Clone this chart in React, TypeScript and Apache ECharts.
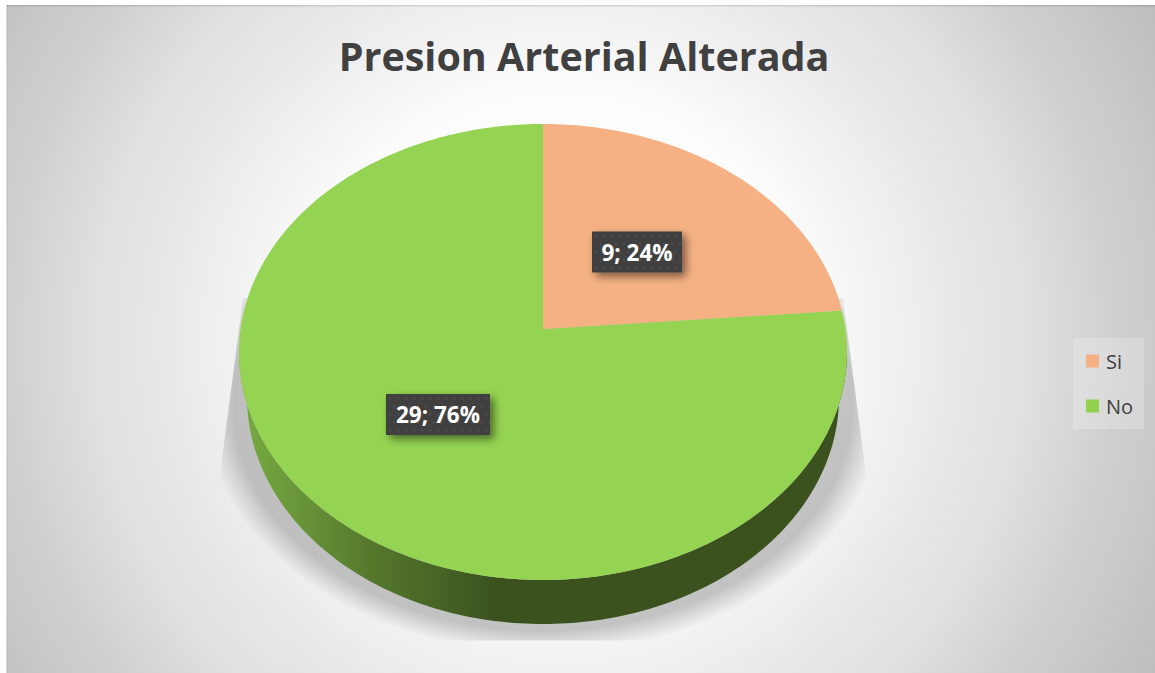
import React, { useEffect, useRef } from "react";
import * as echarts from "echarts";

const categories = ["Si", "No"];
const values = [9, 29];
const percentLabels = ["24%", "76%"];
const sliceColors = ["#F5B183", "#95D452"];
const legendColors = ["#F4B183", "#92D050"];
const titleText = "Presion Arterial Alterada";

const total = values.reduce((a, b) => a + b, 0);

// Perspective projection of the pie's top face
const CX = 543;
const APEX_Y = 329;
const TOP_Y = 124;
const BOTTOM_Y = 580;
const PC = (TOP_Y + BOTTOM_Y - 2 * APEX_Y) / (BOTTOM_Y - TOP_Y);
const PA = TOP_Y * (1 + PC) - APEX_Y;
const PD = 304 * Math.sqrt(1 - PC * PC);

function project(theta: number): [number, number] {
  const u = Math.sin(theta);
  const v = Math.cos(theta);
  const w = 1 + PC * v;
  return [CX + (PD * u) / w, (PA * v + APEX_Y) / w];
}

const SIDE_RX = 296;
const SIDE_CY = 397;
const SIDE_RY = 227;
const WIDE = Math.acos(-PC);

function angleRange(index: number): [number, number] {
  let before = 0;
  for (let i = 0; i < index; i++) before += values[i];
  return [
    (before / total) * Math.PI * 2,
    ((before + values[index]) / total) * Math.PI * 2,
  ];
}

function labelBox(cx: number, cy: number, w: number, text: string) {
  const h = 41;
  const x = cx - w / 2;
  const y = cy - h / 2;
  const dots: any[] = [];
  for (let r = 0; r < 5; r++) {
    for (let c = 0; c < Math.floor(w / 8); c++) {
      dots.push({
        type: "circle",
        z2: 101,
        shape: { cx: x + 4 + c * 8 + (r % 2 ? 4 : 0), cy: y + 4.5 + r * 8, r: 1.1 },
        style: { fill: "rgba(255,255,255,0.09)" },
      });
    }
  }
  return [
    {
      type: "rect",
      z2: 100,
      shape: { x, y, width: w, height: h },
      style: {
        fill: "#404040",
        shadowBlur: 9,
        shadowOffsetX: 4,
        shadowOffsetY: 4,
        shadowColor: "rgba(0,0,0,0.5)",
      },
    },
    ...dots,
    {
      type: "text",
      z2: 102,
      style: {
        x: cx,
        y: cy,
        text,
        align: "center",
        verticalAlign: "middle",
        fill: "#FFFFFF",
        font: 'bold 22.5px "Open Sans", sans-serif',
      },
    },
  ];
}

const labelCenters: [number, number][] = [
  [637, 252],
  [438, 414.5],
];
const labelWidths = [90, 104];

function makeRenderItem(index: number) {
  return () => {
    const [a0, a1] = angleRange(index);
    const children: any[] = [];

    // visible rim of the slice
    const s0 = Math.max(a0, WIDE);
    const s1 = Math.min(a1, Math.PI * 2 - WIDE);
    if (s1 > s0) {
      const N = 160;
      const pts: number[][] = [];
      for (let i = 0; i <= N; i++) pts.push(project(s0 + ((s1 - s0) * i) / N));
      for (let i = N; i >= 0; i--) {
        const t =
          Math.PI / 2 +
          ((s0 - WIDE + (s1 - s0) * (i / N)) / (Math.PI * 2 - 2 * WIDE)) * Math.PI;
        pts.push([CX + SIDE_RX * Math.sin(t), SIDE_CY - SIDE_RY * Math.cos(t)]);
      }
      children.push({
        type: "polygon",
        shape: { points: pts },
        style: {
          fill: new echarts.graphic.LinearGradient(0, 0, 1, 0, [
            { offset: 0, color: "#78AC42" },
            { offset: 0.22, color: "#55782C" },
            { offset: 0.42, color: "#3B521F" },
            { offset: 1, color: "#3B521F" },
          ]),
        },
      });
    }

    // top face
    const N = Math.max(8, Math.ceil(((a1 - a0) / (Math.PI * 2)) * 360));
    const face: number[][] = [[CX, APEX_Y]];
    for (let i = 0; i <= N; i++) face.push(project(a0 + ((a1 - a0) * i) / N));
    children.push({
      type: "polygon",
      z2: 10,
      shape: { points: face },
      style: { fill: sliceColors[index] },
    });
    return { type: "group", children };
  };
}

export default function App() {
  const ref = useRef<HTMLDivElement>(null);
  useEffect(() => {
    document.body.style.margin = "0";
    document.body.style.background = "#FFFFFF";
    const chart = echarts.init(ref.current!, null, { renderer: "svg" });
    const bg = new echarts.graphic.RadialGradient(560, 340, 680, [
      { offset: 0, color: "#FFFFFF" },
      { offset: 0.37, color: "#FCFCFC" },
      { offset: 0.46, color: "#F3F3F3" },
      { offset: 0.63, color: "#E4E4E4" },
      { offset: 0.69, color: "#E0E0E0" },
      { offset: 0.82, color: "#CFCFCF" },
      { offset: 0.87, color: "#CBCBCB" },
      { offset: 1, color: "#BEBEBE" },
    ]);
    (bg as any).global = true;
    chart.setOption({
      animation: false,
      title: {
        text: titleText,
        left: 579,
        top: 31,
        textAlign: "center",
        textStyle: {
          fontFamily: '"Open Sans", sans-serif',
          fontSize: 39.5,
          fontWeight: "bold",
          color: "#404040",
        },
      },
      legend: {
        data: categories.map((name) => ({ name })),
        orient: "vertical",
        left: 1073,
        top: 338,
        padding: [13, 11, 13, 13],
        itemWidth: 13,
        itemHeight: 13,
        itemGap: 25,
        icon: "rect",
        backgroundColor: "rgba(255,255,255,0.22)",
        selectedMode: false,
        textStyle: {
          fontFamily: '"Open Sans", sans-serif',
          fontSize: 20,
          color: "#404040",
          padding: [0, 0, 0, 2],
        },
      },
      graphic: {
        elements: [
          {
            type: "rect",
            z: -10,
            shape: { x: 6.5, y: 5, width: 1149, height: 668 },
            style: { fill: bg },
          },
          {
            type: "rect",
            z: -9,
            shape: { x: 6.5, y: 5, width: 1149, height: 1.5 },
            style: { fill: "rgba(0,0,0,0.12)" },
          },
          {
            type: "rect",
            z: -9,
            shape: { x: 6.5, y: 5, width: 1.2, height: 668 },
            style: { fill: "rgba(0,0,0,0.06)" },
          },
          {
            // soft shadow, cut by the trapezoid; the zero-width spurs give the
            // shape the bounding box of the shadow's ellipse
            type: "polygon",
            z: -8,
            shape: {
              points: [
                [543, 298],
                [543, 153],
                [543, 298],
                [843, 298],
                [868, 490],
                [883, 490],
                [868, 490],
                [868, 640.5],
                [543, 640.5],
                [543, 653],
                [543, 640.5],
                [218, 640.5],
                [218, 490],
                [203, 490],
                [218, 490],
                [243, 298],
              ],
            },
            style: {
              fill: new echarts.graphic.RadialGradient(0.5, 0.5, 0.5, [
                { offset: 0, color: "rgba(0,0,0,0.21)" },
                { offset: 0.91, color: "rgba(0,0,0,0.21)" },
                { offset: 0.96, color: "rgba(0,0,0,0.09)" },
                { offset: 1, color: "rgba(0,0,0,0)" },
              ]),
            },
          },
        ],
      },
      series: [
        ...categories.map((name, i) => ({
          type: "custom",
          name,
          coordinateSystem: "none",
          data: [values[i]],
          itemStyle: { color: legendColors[i] },
          renderItem: makeRenderItem(i),
          silent: true,
          z: i === 1 ? 2 : 3,
        })),
        {
          type: "custom",
          name: "labels",
          coordinateSystem: "none",
          data: [0],
          silent: true,
          z: 10,
          renderItem: () => ({
            type: "group",
            children: categories.flatMap((_, i) =>
              labelBox(
                labelCenters[i][0],
                labelCenters[i][1],
                labelWidths[i],
                `${values[i]}; ${percentLabels[i]}`
              )
            ),
          }),
        },
      ],
    });
    return () => chart.dispose();
  }, []);
  return <div ref={ref} style={{ width: 1155, height: 673 }} />;
}
